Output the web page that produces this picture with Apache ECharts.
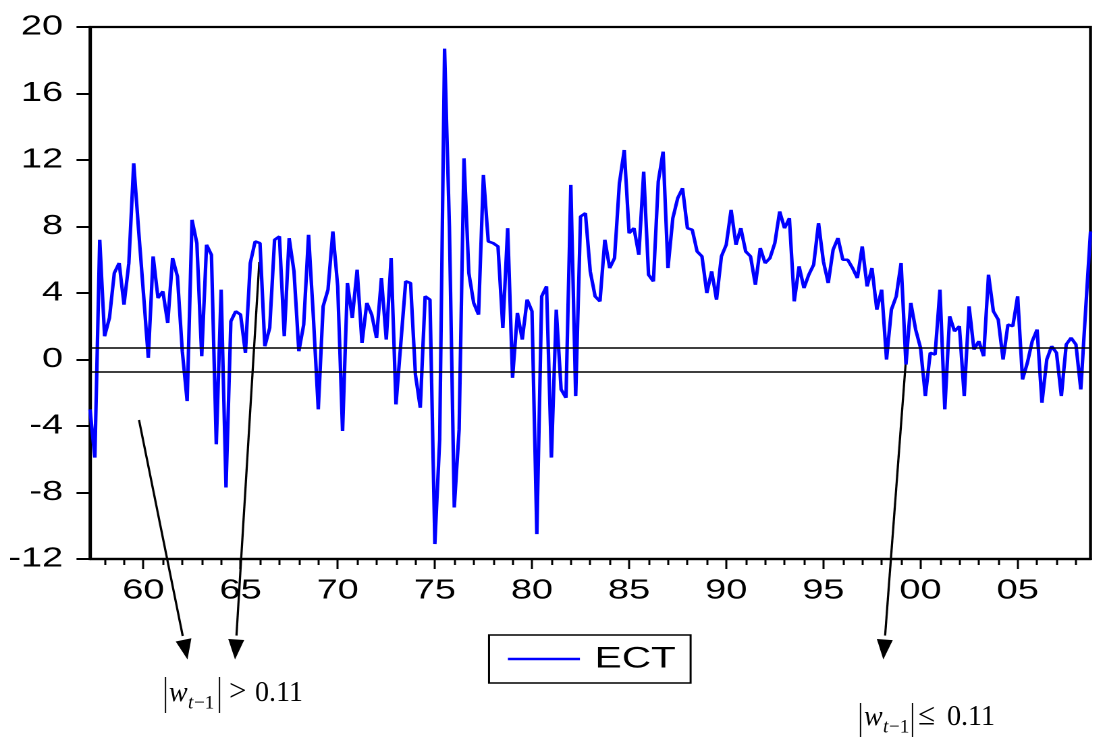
<!DOCTYPE html>
<html>
<head>
<meta charset="utf-8">
<script src="https://cdn.jsdelivr.net/npm/echarts@6/dist/echarts.min.js"></script>
<style>
html,body{margin:0;padding:0;background:#fff;overflow:hidden;width:1094px;height:740px;}
#main{position:absolute;left:0;top:0;height:740px;transform-origin:0 0;}
</style>
</head>
<body>
<div id="main"></div>
<script>
// ---- data (quarterly, 1957Q2 .. 2008Q4) ----
const startYear = 1957;
const startQuarter = 2;
const ect = [
  -3.0, -5.9, 7.2, 1.4, 2.5, 5.2, 5.8, 3.3, 5.8, 11.8,
  7.8, 4.0, 0.1, 6.2, 3.7, 4.1, 2.2, 6.1, 5.0, 0.5,
  -2.5, 8.4, 7.0, 0.2, 6.9, 6.3, -5.1, 4.2, -7.7, 2.3,
  2.9, 2.7, 0.4, 5.8, 7.1, 7.0, 0.8, 1.9, 7.2, 7.4,
  1.4, 7.3, 5.3, 0.5, 2.1, 7.5, 2.5, -3.0, 3.2, 4.2,
  7.7, 4.4, -4.3, 4.6, 2.5, 5.4, 1.0, 3.4, 2.7, 1.3,
  4.9, 1.2, 6.1, -2.7, 1.0, 4.7, 4.6, -0.9, -2.9, 3.8,
  3.6, -11.1, -4.8, 18.7, 8.0, -8.9, -4.2, 12.1, 5.2, 3.4,
  2.7, 11.1, 7.1, 7.0, 6.8, 1.9, 7.9, -1.1, 2.8, 1.2,
  3.6, 2.9, -10.5, 3.8, 4.4, -5.9, 3.0, -1.8, -2.3, 10.5,
  -2.2, 8.6, 8.8, 5.3, 3.8, 3.5, 7.2, 5.5, 6.1, 10.6,
  12.6, 7.6, 7.9, 6.3, 11.3, 5.1, 4.7, 10.7, 12.5, 5.5,
  8.5, 9.7, 10.3, 7.9, 7.8, 6.5, 6.2, 4.0, 5.3, 3.6,
  6.2, 6.9, 9.0, 6.9, 7.9, 6.5, 6.2, 4.5, 6.7, 5.8,
  6.1, 7.0, 8.9, 7.9, 8.5, 3.5, 5.6, 4.3, 5.1, 5.7,
  8.2, 5.9, 4.6, 6.6, 7.3, 6.0, 6.0, 5.5, 4.9, 6.8,
  4.4, 5.5, 3.0, 4.2, 0.0, 3.0, 3.8, 5.8, -0.3, 3.4,
  1.8, 0.7, -2.2, 0.4, 0.3, 4.2, -3.0, 2.6, 1.7, 2.0,
  -2.2, 3.2, 0.6, 1.1, 0.2, 5.1, 2.9, 2.4, 0.0, 2.1,
  2.0, 3.8, -1.2, -0.2, 1.1, 1.8, -2.6, 0.0, 0.8, 0.4,
  -2.2, 0.9, 1.3, 0.9, -1.8, 3.0, 7.7
];
const labelYears = [1960, 1965, 1970, 1975, 1980, 1985, 1990, 1995, 2000, 2005];
const yMin = -12, yMax = 20, yInterval = 4;
const bandLines = [0.7, -0.75];
const seriesName = 'ECT';
const annoArrows = [
  [139, 420, 187.5, 659.5],
  [259.3, 262, 235, 659.5],
  [906.5, 352, 883.3, 659.5]
];
const annoLabels = [
  { bar1: 165.5, bar2: 219.5, top: 677, bot: 713, base: 703, wX: 169, subX: 188, subBase: 710, rel: '>', relX: 229, num: '0.11', numX: 255 },
  { bar1: 860.5, bar2: 912.5, top: 703, bot: 737, base: 727, wX: 864, subX: 883, subBase: 734, rel: '\u2264', relX: 918, num: '0.11', numX: 947 }
];

// ---- layout ----
const S = 1.35; // horizontal stretch of the reference picture
const dom = document.getElementById('main');
dom.style.width = (1094 / S) + 'px';
dom.style.transform = 'scaleX(' + S + ')';

const categories = ect.map((_, i) => {
  const q = startQuarter - 1 + i;
  return (startYear + Math.floor(q / 4)) + 'Q' + (q % 4 + 1);
});
const isYearStart = v => v.endsWith('Q1');
const isLabel = v => isYearStart(v) && labelYears.includes(+v.slice(0, 4));

function arrowEls(a) {
  const [x1, y1, x2, y2] = a;
  const dx = x2 - x1, dy = y2 - y1, L = Math.hypot(dx, dy), ux = dx / L, uy = dy / L;
  const hl = 20, hw = 8;
  const bx = x2 - ux * hl, by = y2 - uy * hl;
  return [
    { type: 'line', shape: { x1: x1, y1: y1, x2: x2 - ux * (hl + 4), y2: y2 - uy * (hl + 4) }, style: { stroke: '#000', lineWidth: 2.2 } },
    { type: 'polygon', shape: { points: [[x2, y2], [bx - uy * hw, by + ux * hw], [bx + uy * hw, by - ux * hw]] }, style: { fill: '#000' } }
  ];
}
function txt(s, x, base, size, italic) {
  return {
    type: 'text', x: x, y: base - 0.34 * size,
    style: { text: s, font: (italic ? 'italic ' : '') + size + 'px "Liberation Serif"', fill: '#000', textAlign: 'left', textVerticalAlign: 'middle' }
  };
}
function labelEls(p) {
  return [
    { type: 'line', shape: { x1: p.bar1, y1: p.top, x2: p.bar1, y2: p.bot }, style: { stroke: '#000', lineWidth: 1.3 } },
    { type: 'line', shape: { x1: p.bar2, y1: p.top, x2: p.bar2, y2: p.bot }, style: { stroke: '#000', lineWidth: 1.3 } },
    txt('w', p.wX, p.base, 28, true),
    txt('t', p.subX, p.subBase, 19, true),
    txt('\u22121', p.subX + 6, p.subBase, 19, false),
    txt(p.rel, p.relX, p.base, 31, false),
    txt(p.num, p.numX, p.base, 28, false)
  ];
}
let children = [];
annoArrows.forEach(a => { children = children.concat(arrowEls(a)); });
annoLabels.forEach(p => { children = children.concat(labelEls(p)); });

const chart = echarts.init(dom, null, { devicePixelRatio: 2 });
chart.setOption({
  animation: false,
  backgroundColor: '#fff',
  grid: {
    left: 90 / S, right: 3 / S, top: 27, bottom: 181,
    show: true, borderColor: '#000', borderWidth: 2.2,
    containLabel: false, outerBoundsMode: 'none'
  },
  legend: {
    show: true, left: 489 / S, top: 635, orient: 'horizontal',
    padding: [9, 11, 9, 14], itemWidth: 72 / S, itemHeight: 2.4,
    borderColor: '#000', borderWidth: 1.5, selectedMode: false,
    icon: 'rect',
    textStyle: { fontFamily: 'Liberation Sans', fontSize: 30, color: '#000', padding: [0, 0, 0, 6] },
    data: [{ name: seriesName, icon: 'rect' }]
  },
  xAxis: [
    {
      type: 'category', data: categories, boundaryGap: false,
      axisLine: { show: true, onZero: false, lineStyle: { color: '#000', width: 2.2 } },
      axisTick: { show: true, interval: (i, v) => isYearStart(v), length: 6, lineStyle: { color: '#000', width: 1.5 } },
      axisLabel: { interval: (i, v) => isLabel(v), formatter: v => v.slice(2, 4), fontFamily: 'Liberation Sans', fontSize: 28, color: '#000', margin: 18 },
      splitLine: { show: false }
    },
    {
      type: 'category', data: categories, boundaryGap: false, position: 'bottom', offset: 0,
      axisLine: { show: false, onZero: false },
      axisTick: { show: true, interval: (i, v) => isLabel(v), length: 10, lineStyle: { color: '#000', width: 1.5 } },
      axisLabel: { show: false },
      splitLine: { show: false }
    }
  ],
  yAxis: {
    type: 'value', min: yMin, max: yMax, interval: yInterval,
    axisLine: { show: true, onZero: false, lineStyle: { color: '#000', width: 2.2 } },
    axisTick: { show: true, length: 10, lineStyle: { color: '#000', width: 2 } },
    axisLabel: { fontFamily: 'Liberation Sans', fontSize: 28, color: '#000', margin: 20 },
    splitLine: { show: false }
  },
  series: [{
    name: seriesName, type: 'line', data: ect, xAxisIndex: 0,
    symbol: 'none', showSymbol: false,
    lineStyle: { color: '#0000ff', width: 2.6 },
    itemStyle: { color: '#0000ff' },
    emphasis: { disabled: true },
    markLine: {
      silent: true, symbol: ['none', 'none'], label: { show: false },
      lineStyle: { color: '#000', width: 1.5, type: 'solid' },
      emphasis: { disabled: true },
      data: bandLines.map(v => ({ yAxis: v }))
    }
  }],
  graphic: [{
    type: 'group', x: 0, y: 0, scaleX: 1 / S, silent: true,
    children: children
  }]
});
</script>
</body>
</html>
